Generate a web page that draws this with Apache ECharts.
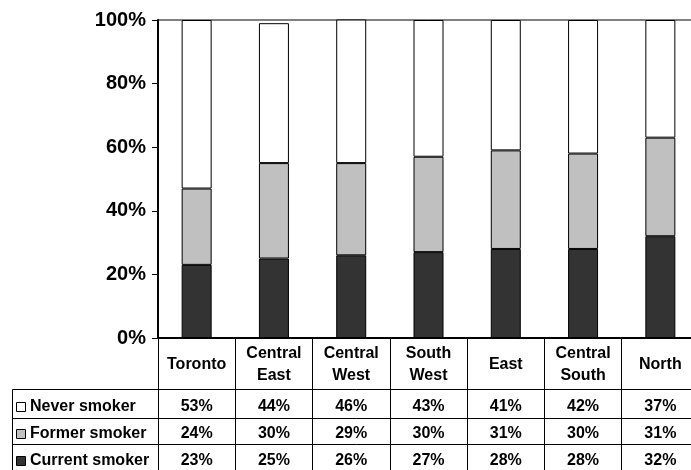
<!DOCTYPE html>
<html>
<head>
<meta charset="utf-8">
<script src="https://cdn.jsdelivr.net/npm/echarts@6/dist/echarts.min.js"></script>
<style>
  html, body { margin: 0; padding: 0; overflow: hidden; background: #fff; }
  #chart { width: 700px; height: 470px; }
</style>
</head>
<body>
<div id="chart"></div>
<script>
// Smoking status by region (percent of respondents)
const regions = ['Toronto', 'Central\nEast', 'Central\nWest', 'South\nWest', 'East', 'Central\nSouth', 'North'];
const currentSmoker = [23, 25, 26, 27, 28, 28, 32];
const formerSmoker  = [24, 30, 29, 30, 31, 30, 31];
const neverSmoker   = [53, 44, 46, 43, 41, 42, 37];
const rowNames = ['Never smoker', 'Former smoker', 'Current smoker'];
const yMin = 0, yMax = 100, yStep = 20;

const FONT = '"Liberation Sans", Arial, Helvetica, sans-serif';
const COLORS = { never: '#ffffff', former: '#c0c0c0', current: '#333333' };

const chart = echarts.init(document.getElementById('chart'), null, { renderer: 'canvas' });

const barStyle = (color) => ({ color: color, borderColor: '#000', borderWidth: 1 });

chart.setOption({
  animation: false,
  backgroundColor: '#fff',
  grid: {
    left: 158, top: 20, right: 1, bottom: 132,
    show: true, borderColor: '#000', borderWidth: 1, backgroundColor: 'transparent'
  },
  xAxis: {
    type: 'category',
    data: regions,
    boundaryGap: true,
    axisLine: { show: true, lineStyle: { color: '#000', width: 2 } },
    axisTick: { show: true, interval: 0, length: 132, lineStyle: { color: '#000', width: 1 } },
    axisLabel: {
      interval: 0, margin: 27, verticalAlign: 'middle', lineHeight: 22,
      fontFamily: FONT, fontWeight: 'bold', fontSize: 16, color: '#000'
    },
    splitLine: { show: false }
  },
  yAxis: {
    type: 'value',
    min: yMin, max: yMax, interval: yStep,
    axisLine: { show: true, lineStyle: { color: '#000', width: 2 } },
    axisTick: { show: true, length: 6, lineStyle: { color: '#000', width: 1 } },
    axisLabel: {
      formatter: '{value}%', margin: 12,
      fontFamily: FONT, fontWeight: 'bold', fontSize: 20, color: '#000'
    },
    splitLine: { show: false }
  },
  series: [
    { name: 'Current smoker', type: 'bar', stack: 'all', barWidth: 30, data: currentSmoker, itemStyle: barStyle(COLORS.current) },
    { name: 'Former smoker',  type: 'bar', stack: 'all', barWidth: 30, data: formerSmoker,  itemStyle: barStyle(COLORS.former) },
    { name: 'Never smoker',   type: 'bar', stack: 'all', barWidth: 30, data: neverSmoker,   itemStyle: barStyle(COLORS.never) }
  ]
});

// Data table under the plot: row labels with colour keys, values per region
const tableRows = [
  { name: rowNames[0], values: neverSmoker,   color: COLORS.never,   y: 407 },
  { name: rowNames[1], values: formerSmoker,  color: COLORS.former,  y: 434 },
  { name: rowNames[2], values: currentSmoker, color: COLORS.current, y: 461 }
];
const ruleYs = [389.5, 418.5, 444.5];
const tableLeft = 12.5;
const textStyle = { fontFamily: FONT, fontWeight: 'bold', fontSize: 16, fill: '#000' };

const elements = [];
ruleYs.forEach(y => elements.push({
  type: 'line', shape: { x1: tableLeft, y1: y, x2: 700, y2: y },
  style: { stroke: '#000', lineWidth: 1 }, silent: true
}));
elements.push({
  type: 'line', shape: { x1: tableLeft, y1: ruleYs[0], x2: tableLeft, y2: 470 },
  style: { stroke: '#000', lineWidth: 1 }, silent: true
});
tableRows.forEach(row => {
  elements.push({
    type: 'rect', shape: { x: 16.5, y: row.y - 4.5, width: 9, height: 9 },
    style: { fill: row.color, stroke: '#000', lineWidth: 1 }, silent: true
  });
  elements.push({
    type: 'text', x: 30, y: row.y,
    style: Object.assign({ text: row.name, align: 'left', verticalAlign: 'middle' }, textStyle), silent: true
  });
  row.values.forEach((v, i) => {
    const px = chart.convertToPixel({ xAxisIndex: 0 }, i);
    elements.push({
      type: 'text', x: px, y: row.y,
      style: Object.assign({ text: v + '%', align: 'center', verticalAlign: 'middle' }, textStyle), silent: true
    });
  });
});
chart.setOption({ graphic: { elements: elements } });
</script>
</body>
</html>
